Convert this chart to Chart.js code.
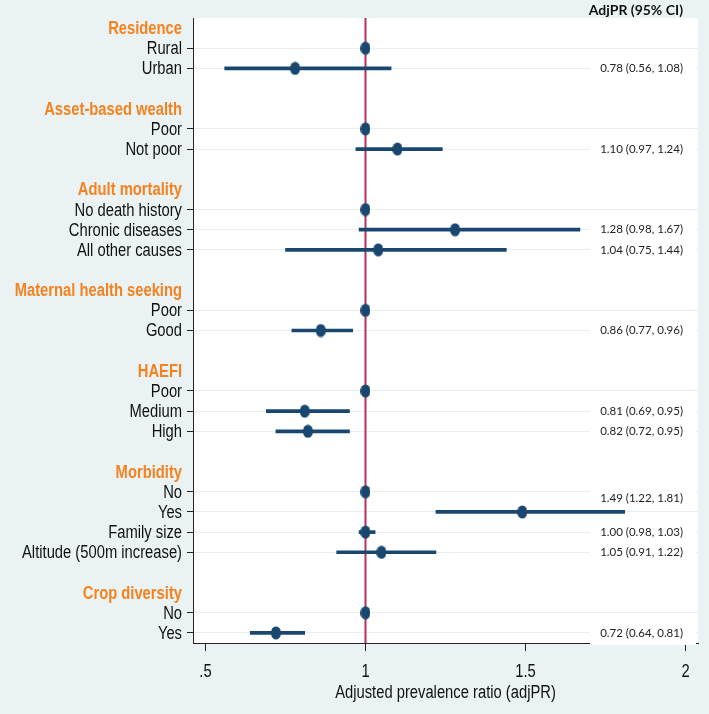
<!DOCTYPE html>
<html><head><meta charset="utf-8">
<script src="https://cdn.jsdelivr.net/npm/chart.js@4/dist/chart.umd.min.js"></script>
<style>html,body{margin:0;padding:0;background:#eaf2f3;}#wrap{width:709px;height:714px;position:relative;}</style>
</head><body><div id="wrap"><canvas id="c"></canvas></div>
<script>
const categories = ['Residence','Rural','Urban','',
  'Asset-based wealth','Poor','Not poor','',
  'Adult mortality','No death history','Chronic diseases','All other causes','',
  'Maternal health seeking','Poor','Good','',
  'HAEFI','Poor','Medium','High','',
  'Morbidity','No','Yes','Family size','Altitude (500m increase)','',
  'Crop diversity','No','Yes'];
const groupHeaders = ['Residence','Asset-based wealth','Adult mortality','Maternal health seeking','HAEFI','Morbidity','Crop diversity'];
const estimates = [null,1,0.78,null, null,1,1.10,null, null,1,1.28,1.04,null, null,1,0.86,null, null,1,0.81,0.82,null, null,1,1.49,1.00,1.05,null, null,1,0.72];
const ciLower   = [null,null,0.56,null, null,null,0.97,null, null,null,0.98,0.75,null, null,null,0.77,null, null,null,0.69,0.72,null, null,null,1.22,0.98,0.91,null, null,null,0.64];
const ciUpper   = [null,null,1.08,null, null,null,1.24,null, null,null,1.67,1.44,null, null,null,0.96,null, null,null,0.95,0.95,null, null,null,1.81,1.03,1.22,null, null,null,0.81];
const xTickValues = [0.5,1,1.5,2];
const xTickLabels = ['.5','1','1.5','2'];
const nullValue = 1;
const columnTitle = 'AdjPR (95% CI)';
const xAxisTitle = 'Adjusted prevalence ratio (adjPR)';

const NAVY = '#1a476f';
const ORANGE = '#f5821f';
const SANS = "'Liberation Sans', Arial, sans-serif";
const SQUEEZE = 0.82;
const isHeader = i => groupHeaders.includes(categories[i]);
const isItem = i => categories[i] !== '' && !isHeader(i);

const dot = document.createElement('canvas');
dot.width = 10; dot.height = 14;
(function(){ const g = dot.getContext('2d'); g.fillStyle = NAVY; g.beginPath(); g.ellipse(5,7,5,6.6,0,0,Math.PI*2); g.fill(); })();

const ciRanges = ciLower.map((lo,i) => lo == null ? null : [lo, ciUpper[i]]);
const ciLabels = estimates.map((e,i) => ciLower[i] == null ? null :
  `${e.toFixed(2)} (${ciLower[i].toFixed(2)}, ${ciUpper[i].toFixed(2)})`);

function narrowText(ctx, text, x, y, font, color, align, baseline) {
  ctx.save(); ctx.translate(x, y); ctx.scale(SQUEEZE, 1);
  ctx.font = font; ctx.fillStyle = color; ctx.textAlign = align; ctx.textBaseline = baseline;
  ctx.fillText(text, 0, 0); ctx.restore();
}

const bgPlugin = { id:'bg', beforeDraw(chart){
  const {ctx, chartArea:a} = chart; ctx.save();
  ctx.fillStyle = '#eaf2f3'; ctx.fillRect(0,0,chart.width,chart.height);
  ctx.fillStyle = '#ffffff'; ctx.fillRect(a.left,a.top,a.right-a.left,a.bottom-a.top);
  ctx.restore(); } };
const refLine = { id:'refLine', beforeDatasetsDraw(chart){
  const {ctx, chartArea:a} = chart; const x = chart.scales.x.getPixelForValue(nullValue);
  ctx.save(); ctx.strokeStyle = '#b8305a'; ctx.lineWidth = 2;
  ctx.beginPath(); ctx.moveTo(x,a.top); ctx.lineTo(x,a.bottom); ctx.stroke(); ctx.restore(); } };
const axisText = { id:'axisText', afterDraw(chart){
  const {ctx, chartArea:a} = chart; const ys = chart.scales.y, xs = chart.scales.x;
  categories.forEach((lab, i) => {
    if (!lab) return;
    const h = isHeader(i);
    narrowText(ctx, lab, a.left - 11, ys.getPixelForTick(i) + 1,
      (h ? 'bold ' : '') + '18px ' + SANS, h ? ORANGE : '#111', 'right', 'middle');
  });
  xTickValues.forEach((v, i) => {
    narrowText(ctx, xTickLabels[i], xs.getPixelForValue(v), a.bottom + 34, '18px ' + SANS, '#111', 'center', 'alphabetic');
  });
  narrowText(ctx, xAxisTitle, (a.left + a.right) / 2, a.bottom + 55, '18px ' + SANS, '#111', 'center', 'alphabetic');
} };
const textShift = {24: -0.7};
const ciText = { id:'ciText', afterDraw(chart){
  const {ctx, chartArea:a} = chart; const ys = chart.scales.y;
  ctx.save();
  ciLabels.forEach((t,i) => {
    if (!t) return;
    const y = ys.getPixelForValue(i + (textShift[i] || 0));
    ctx.fillStyle = '#ffffff'; ctx.fillRect(a.right-108, y-11, 106, 23);
    ctx.fillStyle = '#222'; ctx.font = "11.5px Lato, 'Open Sans', sans-serif";
    ctx.textAlign = 'right'; ctx.textBaseline = 'middle';
    ctx.fillText(t, a.right-15, y);
  });
  ctx.fillStyle = '#111'; ctx.font = "bold 14px Lato, 'Open Sans', sans-serif";
  ctx.textAlign = 'right'; ctx.textBaseline = 'middle';
  ctx.fillText(columnTitle, a.right-15, 10);
  ctx.restore(); } };

new Chart(document.getElementById('c'), {
  type: 'bar',
  data: { labels: categories, datasets: [
    { type:'line', data: estimates, showLine:false, pointStyle: dot, pointRadius: 6, pointHoverRadius: 6, order: 0 },
    { type:'bar', data: ciRanges, backgroundColor: NAVY, borderWidth: 0, barThickness: 3, order: 1 }
  ]},
  options: {
    indexAxis: 'y', responsive: true, maintainAspectRatio: false, animation: false, events: [],
    layout: { padding: { left: 0, right: 11, top: 18, bottom: 0 } },
    plugins: { legend: { display: false }, tooltip: { enabled: false } },
    scales: {
      x: { type: 'linear', min: 0.461, max: 2.039,
        afterBuildTicks: s => { s.ticks = xTickValues.map(v => ({ value: v })); },
        afterFit: s => { s.height = 71; },
        ticks: { display: false },
        grid: { display: true, drawOnChartArea: false, tickLength: 8, tickColor: '#222', tickWidth: 1 },
        border: { display: true, color: '#222', width: 1 },
        title: { display: false, text: xAxisTitle }
      },
      y: { type: 'category', offset: true,
        afterFit: s => { s.width = 193; },
        ticks: { display: false, autoSkip: false },
        grid: { offset: false, drawOnChartArea: true, tickLength: 6, lineWidth: 1,
          color: c => isItem(c.index) ? '#e6eef0' : 'rgba(0,0,0,0)',
          tickColor: c => isItem(c.index) ? '#222' : 'rgba(0,0,0,0)' },
        border: { display: true, color: '#222', width: 1 }
      }
    }
  },
  plugins: [bgPlugin, refLine, axisText, ciText]
});
</script></body></html>
